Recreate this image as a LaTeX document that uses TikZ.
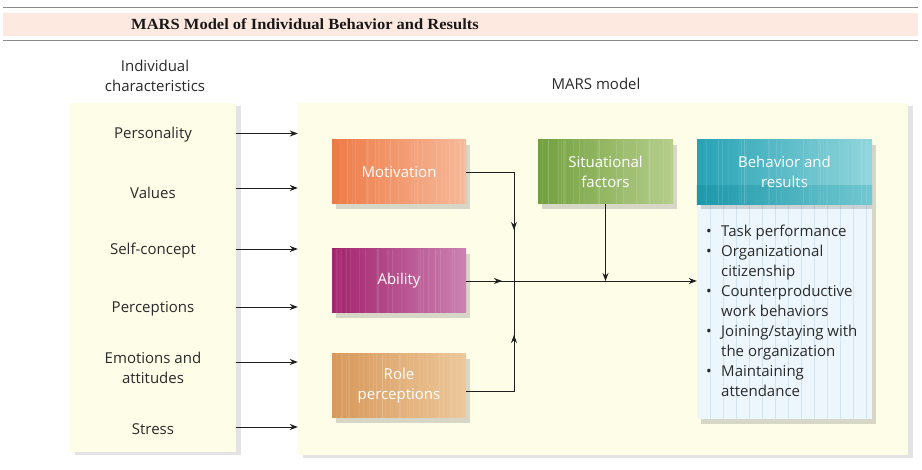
\documentclass[tikz,border=0pt]{standalone}
\usepackage{fontspec}
\setmainfont{Open Sans}
\newfontfamily\titlefont{Liberation Serif}
\usetikzlibrary{arrows.meta,shadows,calc}
\definecolor{panelc}{HTML}{FDFDE8}
\definecolor{headc}{HTML}{FDE9E0}
\definecolor{rulec}{HTML}{8A8A8A}
\definecolor{textc}{HTML}{2A2A2A}
\definecolor{linec}{HTML}{1E1E1E}
\definecolor{motL}{HTML}{EE7A46}
\definecolor{motR}{HTML}{F6BA9A}
\definecolor{abiL}{HTML}{A2226C}
\definecolor{abiR}{HTML}{CC82B2}
\definecolor{rolL}{HTML}{D8985A}
\definecolor{rolR}{HTML}{ECC89C}
\definecolor{sitL}{HTML}{72A03E}
\definecolor{sitR}{HTML}{B6CE8C}
\definecolor{behL}{HTML}{26A2B4}
\definecolor{behR}{HTML}{92D6DC}
\definecolor{bandL}{HTML}{1C98AA}
\definecolor{bandR}{HTML}{72C8D0}
\definecolor{bodyc}{HTML}{ECF6FC}
\definecolor{gridc}{HTML}{D2E4EE}
\tikzset{
  panel/.style={fill=panelc, inner sep=0pt,
    drop shadow={opacity=0.22, shadow xshift=5pt, shadow yshift=-3pt}},
  mbox/.style={minimum width=134pt, minimum height=64pt, inner sep=0pt,
    align=center, text=white, shading=axis, shading angle=90,
    drop shadow={opacity=0.3, shadow xshift=4pt, shadow yshift=-5pt}},
  boxtext/.style={text=white, align=center, font=\fontsize{15}{20}\selectfont},
  item/.style={align=center, text=textc, font=\fontsize{15}{20}\selectfont},
  conn/.style={draw=linec, line width=0.9pt},
  tip/.style={-{Stealth[length=8pt,width=6pt]}}
}
\begin{document}
\begin{tikzpicture}[x=1pt,y=-1pt]
\useasboundingbox[fill=white] (0,0) rectangle (922,470);
% header
\fill[headc] (3,13) rectangle (918,36);
\draw[rulec, line width=1pt] (3,8) -- (918,8);
\draw[rulec, line width=1pt] (3,40.5) -- (918,40.5);
\node[anchor=base west, inner sep=0pt, text=black!90, font=\titlefont\bfseries\fontsize{15.5}{17}\selectfont] (title) at (131,29.5)
  {\scalebox{1.065}[1]{MARS Model of Individual Behavior and Results}};
% panels
\node[panel, minimum width=166pt, minimum height=349pt] (lp) at (153,277.5) {};
\node[panel, minimum width=610pt, minimum height=352pt] (mp) at (603,279) {};
\node[item] (lpt) at (155,75.5) {Individual\\characteristics};
\node[item] (mpt) at (596,84) {MARS model};
% items
\node[item] (i1) at (153,135) {Personality};
\node[item] (i2) at (153,193) {Values};
\node[item] (i3) at (153,251) {Self-concept};
\node[item] (i4) at (153,309) {Perceptions};
\node[item] (i5) at (153,368) {Emotions and\\attitudes};
\node[item] (i6) at (153,429) {Stress};
\draw[conn,tip] (lp.east |- {$(i1)+(0,-1.5)$}) -- (mp.west |- {$(i1)+(0,-1.5)$});
\draw[conn,tip] (lp.east |- {$(i2)+(0,-5)$}) -- (mp.west |- {$(i2)+(0,-5)$});
\draw[conn,tip] (lp.east |- {$(i3)+(0,-2)$}) -- (mp.west |- {$(i3)+(0,-2)$});
\draw[conn,tip] (lp.east |- {$(i4)+(0,-2)$}) -- (mp.west |- {$(i4)+(0,-2)$});
\draw[conn,tip] (lp.east |- {$(i5)+(0,-6)$}) -- (mp.west |- {$(i5)+(0,-6)$});
\draw[conn,tip] (lp.east |- {$(i6)+(0,-2)$}) -- (mp.west |- {$(i6)+(0,-2)$});
% MARS boxes
\node[mbox, left color=motL, right color=motR] (mot) at (399,172) {};
\node[mbox, left color=abiL, right color=abiR] (abi) at (399,281) {};
\node[mbox, left color=rolL, right color=rolR] (rol) at (399,386) {};
\node[mbox, minimum width=135pt, left color=sitL, right color=sitR] (sit) at (605.5,172) {};
% behavior box
\node[minimum width=175pt, minimum height=215pt, inner sep=0pt, fill=bodyc,
  drop shadow={opacity=0.3, shadow xshift=4pt, shadow yshift=-5pt}] (bb) at (784.5,311.5) {};
\foreach \k in {1,...,13}
  \draw[gridc, line width=0.6pt] ($(bb.north west)+(\k*13,0)$) -- ($(bb.south west)+(\k*13,0)$);
\node[mbox, minimum width=175pt, left color=behL, right color=behR, drop shadow={opacity=0}] (bh) at (784.5,172) {};
\shade[left color=bandL, right color=bandR] ($(bh.south west)+(0,-19)$) rectangle (bh.south east);
% stripes texture
\pgfmathsetseed{7}
\foreach \b in {mot,abi,rol,sit,bh} {
  \foreach \k in {1,...,28} {
    \pgfmathsetmacro\xx{rnd}
    \pgfmathsetmacro\oo{0.04+0.08*rnd}
    \draw[white, opacity=\oo, line width=0.8pt] ($(\b.north west)!\xx!(\b.north east)$) -- ($(\b.south west)!\xx!(\b.south east)$);
  }
}
\node[boxtext] (motT) at (mot.center) {Motivation};
\node[boxtext] (abiT) at (abi.center) {Ability};
\node[boxtext] (rolT) at (rol.center) {Role\\perceptions};
\node[boxtext] (sitT) at (sit.center) {Situational\\factors};
\node[boxtext] (bhT) at (bh.center) {Behavior and\\results};
% bullet list
\node[anchor=north west, align=left, inner sep=0pt, text=textc, font=\fontsize{15}{20}\selectfont] (bl) at (706,224.5)
{\makebox[15pt][l]{•}Task performance\\
 \makebox[15pt][l]{•}Organizational\\
 \hspace*{15pt}citizenship\\
 \makebox[15pt][l]{•}Counterproductive\\
 \hspace*{15pt}work behaviors\\
 \makebox[15pt][l]{•}Joining/staying with\\
 \hspace*{15pt}the organization\\
 \makebox[15pt][l]{•}Maintaining\\
 \hspace*{15pt}attendance};
% connectors
\coordinate (J) at (514,281);
\draw[conn] (mot.east) -| (J);
\draw[conn,tip] (mot.east) -| ($(J)+(0,-51)$);
\draw[conn] ($(rol.east)+(0,5.5)$) -| (J);
\draw[conn,tip] ($(rol.east)+(0,5.5)$) -| ($(J)+(0,54)$);
\draw[conn,tip] (abi.east) -- ($(J)+(-12,0)$);
\draw[conn] (abi.east) -- (J);
\draw[conn,tip] (J) -- (bb.west |- J);
\draw[conn,tip] (sit.south) -- (sit.south |- J);
\end{tikzpicture}
\end{document}
